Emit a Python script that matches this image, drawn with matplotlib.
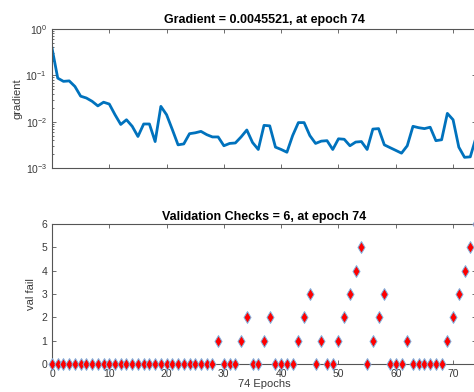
import numpy as np
import matplotlib
matplotlib.use("Agg")
import matplotlib.pyplot as plt
from matplotlib.path import Path
from matplotlib.ticker import LogLocator, NullFormatter, FixedLocator

plt.rcParams['font.family'] = ['Liberation Sans', 'DejaVu Sans']

epochs = list(range(75))
gradient = [0.389, 0.0871, 0.0741, 0.0759, 0.0575, 0.0355, 0.0324, 0.0275, 0.0219, 0.0263,
            0.0240, 0.0141, 0.00871, 0.0110, 0.00794, 0.00479, 0.00891, 0.00891, 0.00372, 0.0214,
            0.0141, 0.00676, 0.00316, 0.00331, 0.00550, 0.00575, 0.00617, 0.00525, 0.00468, 0.00468,
            0.00302, 0.00339, 0.00347, 0.00468, 0.00661, 0.00355, 0.00251, 0.00832, 0.00813, 0.00282,
            0.00251, 0.00219, 0.00501, 0.00955, 0.00955, 0.00501, 0.00339, 0.00380, 0.00389, 0.00251,
            0.00427, 0.00417, 0.00302, 0.00363, 0.00372, 0.00251, 0.00692, 0.00708, 0.00316, 0.00275,
            0.00240, 0.00209, 0.00302, 0.00794, 0.00741, 0.00708, 0.00759, 0.00389, 0.00407, 0.0151,
            0.0110, 0.00282, 0.00170, 0.00174, 0.0045521]
val_fail = [0] * 29 + [1, 0, 0, 0, 1, 2, 0, 0, 1, 2, 0, 0, 0, 0, 1, 2, 3, 0, 1, 0, 0,
                       1, 2, 3, 4, 5, 0, 1, 2, 3, 0, 0, 0, 1, 0, 0, 0, 0, 0, 0, 1, 2, 3, 4, 5, 6]
x_ticks = [0, 10, 20, 30, 40, 50, 60, 70]
val_ticks = [0, 1, 2, 3, 4, 5, 6]

W, H = 474, 392
fig = plt.figure(figsize=(W / 100, H / 100), dpi=100)

def ax_rect(left, right, top, bottom):
    return [left / W, 1 - bottom / H, (right - left) / W, (bottom - top) / H]

spine_c = '#555555'
tick_c = '#3a3a3a'

ax1 = fig.add_axes(ax_rect(52, 476, 29, 168))
ax2 = fig.add_axes(ax_rect(52, 476, 224, 364))

for ax in (ax1, ax2):
    for s in ax.spines.values():
        s.set_color(spine_c)
        s.set_linewidth(0.8)
    ax.tick_params(direction='in', which='both', top=True, right=True,
                   colors=spine_c, labelcolor=tick_c, labelsize=7.5, width=0.6)
    ax.tick_params(which='major', length=3)
    ax.tick_params(which='minor', length=1.5)
    ax.set_xlim(0, 74)
    ax.xaxis.set_major_locator(FixedLocator(x_ticks))

ax1.semilogy(epochs, gradient, color='#0072BD', linewidth=2)
ax1.set_ylim(1e-3, 1)
ax1.yaxis.set_major_locator(LogLocator(base=10, numticks=10))
ax1.yaxis.set_minor_locator(LogLocator(base=10, subs=np.arange(2, 10), numticks=10))
ax1.yaxis.set_minor_formatter(NullFormatter())
ax1.set_xticklabels([])
ax1.set_ylabel('gradient', fontsize=8, color=tick_c, labelpad=2)
ax1.set_title('Gradient = 0.0045521, at epoch 74', fontsize=9, fontweight='bold', pad=4)

diamond = Path([(0, 1), (0.6, 0), (0, -1), (-0.6, 0), (0, 1)],
               [Path.MOVETO, Path.LINETO, Path.LINETO, Path.LINETO, Path.CLOSEPOLY])
ax2.plot(epochs, val_fail, linestyle='none', marker=diamond, markersize=8.5,
         markerfacecolor='red', markeredgecolor='#7fb2e0', markeredgewidth=0.7,
         clip_on=False, zorder=5)
ax2.set_ylim(0, 6)
ax2.yaxis.set_major_locator(FixedLocator(val_ticks))
ax2.set_ylabel('val fail', fontsize=8, color=tick_c, labelpad=4)
ax2.set_xlabel('74 Epochs', fontsize=8, color=tick_c, labelpad=0)
ax2.set_title('Validation Checks = 6, at epoch 74', fontsize=9, fontweight='bold', pad=3)

fig.savefig('out.png', dpi=100)
